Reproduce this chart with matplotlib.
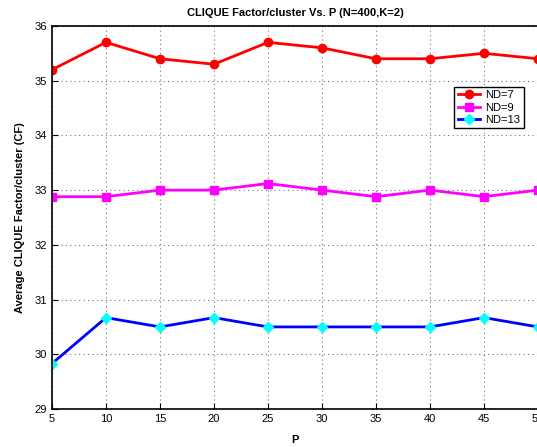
import matplotlib
matplotlib.use("Agg")
import matplotlib.pyplot as plt
import numpy as np

plt.rcParams['font.family'] = ['Liberation Sans', 'DejaVu Sans']

P = [5, 10, 15, 20, 25, 30, 35, 40, 45, 50]
cf_nd7 = [35.2, 35.7, 35.4, 35.3, 35.7, 35.6, 35.4, 35.4, 35.5, 35.4]
cf_nd9 = [32.88, 32.88, 33.0, 33.0, 33.12, 33.0, 32.88, 33.0, 32.88, 33.0]
cf_nd13 = [29.83, 30.67, 30.5, 30.67, 30.5, 30.5, 30.5, 30.5, 30.67, 30.5]

fig = plt.figure(figsize=(5.37, 4.47), dpi=100)
ax = fig.add_axes([0.0968, 0.085, 0.905, 0.857])

ax.plot(P, cf_nd7, color='red', lw=2, marker='o', ms=6, label='ND=7')
ax.plot(P, cf_nd9, color='magenta', lw=2, marker='s', ms=5.5, label='ND=9')
ax.plot(P, cf_nd13, color='blue', lw=2, marker='D', ms=5.5, mfc='cyan', mec='cyan', label='ND=13')

ax.set_xlim(5, 50)
ax.set_ylim(29, 36)
ax.set_xticks(P)
ax.set_yticks(range(29, 37))
ax.grid(True, linestyle=(0, (1, 3)), color='#777777', lw=0.8)
ax.tick_params(direction='in', labelsize=8, length=4)
for s in ax.spines.values():
    s.set_linewidth(1.2)

ax.set_title('CLIQUE Factor/cluster Vs. P (N=400,K=2)', fontsize=8, fontweight='bold', pad=7)
ax.set_xlabel('P', fontsize=8, fontweight='bold', labelpad=8)
ax.set_ylabel('Average CLIQUE Factor/cluster (CF)', fontsize=8, fontweight='bold', labelpad=7)

leg = ax.legend(loc='upper right', bbox_to_anchor=(0.982, 0.855), fontsize=8,
                fancybox=False, framealpha=1, edgecolor='black',
                handlelength=2.0, handletextpad=0.5, borderpad=0.3, labelspacing=0.2)
leg.get_frame().set_linewidth(1)

fig.savefig('out.png', dpi=100)
